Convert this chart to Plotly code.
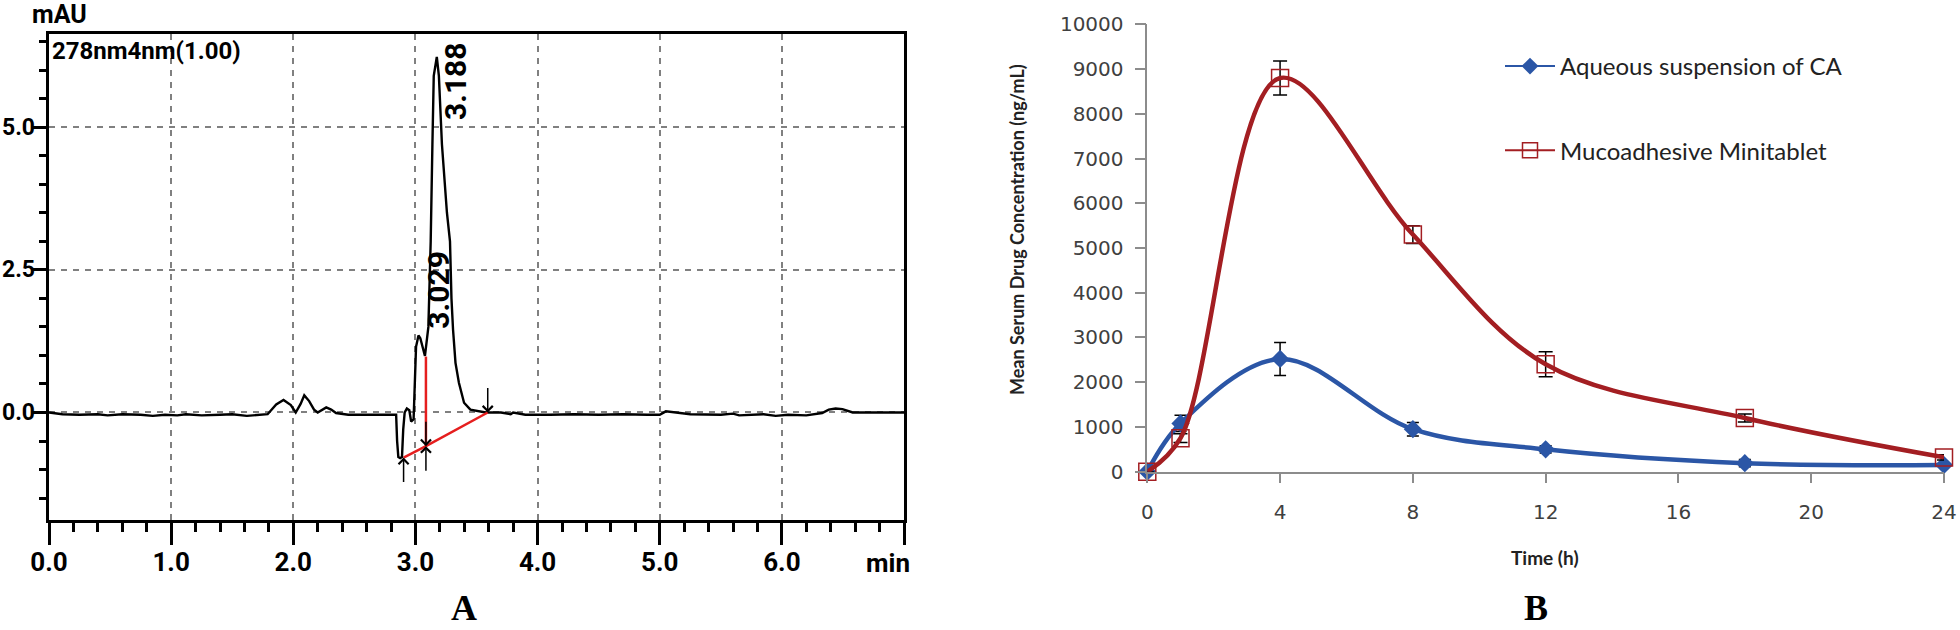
import plotly.graph_objects as go

# --- panel A: HPLC chromatogram (278 nm) ---
chrom_t = [0.00, 0.11, 0.25, 0.40, 0.48, 0.60, 0.75, 0.85, 0.95, 1.05, 1.12, 1.25, 1.40,
           1.50, 1.62, 1.72, 1.79, 1.86, 1.92, 1.98, 2.02, 2.06, 2.09, 2.13, 2.17, 2.20,
           2.24, 2.27, 2.31, 2.35, 2.45, 2.60, 2.75, 2.842, 2.850, 2.860, 2.875, 2.890,
           2.900, 2.912, 2.930, 2.950, 2.965, 2.985, 3.005, 3.025, 3.040, 3.078, 3.106,
           3.125, 3.139, 3.150, 3.175, 3.192, 3.217, 3.258, 3.283, 3.295, 3.308, 3.328,
           3.356, 3.398, 3.450, 3.575, 3.700, 3.780, 3.800, 3.900, 4.100, 4.300, 4.500,
           4.700, 4.900, 5.000, 5.050, 5.250, 5.500, 5.600, 5.650, 5.850, 5.950, 6.050,
           6.200, 6.330, 6.384, 6.440, 6.496, 6.580, 6.700, 6.850, 7.000]
chrom_mau = [0.00, -0.03, -0.04, -0.03, -0.05, -0.03, -0.04, -0.06, -0.04, -0.05, -0.03, -0.05, -0.04,
             -0.03, -0.06, -0.04, -0.03, 0.14, 0.22, 0.13, 0.00, 0.15, 0.30, 0.20, 0.05, 0.00,
             0.06, 0.09, 0.05, -0.01, -0.04, -0.04, -0.04, -0.04, -0.50, -0.78, -0.80, -0.78,
             -0.30, 0.00, 0.07, 0.04, -0.16, -0.12, 1.15, 1.35, 1.30, 0.99, 1.50,
             3.00, 4.70, 5.90, 6.23, 5.90, 4.70, 3.50, 3.00, 2.00, 1.45, 0.87,
             0.52, 0.17, 0.05, 0.00, 0.00, -0.03, 0.00, -0.04, -0.04, -0.03, -0.04,
             -0.03, -0.04, -0.04, 0.02, -0.03, -0.04, -0.02, -0.05, -0.03, -0.06, -0.04,
             -0.05, -0.01, 0.05, 0.07, 0.06, 0.00, 0.00, 0.00, 0.00]

# integration events: start, drop line, end
event_t = [2.903, 3.086, 3.592]
event_mau = [-0.79, -0.59, 0.00]
drop_top = 0.98
peak_labels = ["3.029", "3.188"]
peak_label_t = [3.192, 3.333]
peak_label_mau = [2.15, 5.81]

a_xticks = [0, 1, 2, 3, 4, 5, 6, 7]
a_xtext = ["0.0", "1.0", "2.0", "3.0", "4.0", "5.0", "6.0", ""]
a_yticks = [0.0, 2.5, 5.0]

# --- panel B: serum concentration profiles ---
time_h = [0, 1, 4, 8, 12, 18, 24]
aq_mean = [0, 1080, 2520, 950, 500, 190, 150]
aq_sd = [0, 180, 370, 150, 80, 80, 40]
mm_mean = [0, 750, 8800, 5300, 2400, 1200, 320]
mm_sd = [0, 100, 380, 200, 280, 90, 60]

blue = "#2B56A6"
red = "#A31E22"
font_a = "Roboto, Liberation Sans, sans-serif"
font_b = "DejaVu Sans, Verdana, sans-serif"

fig = go.Figure()

fig.add_trace(go.Scatter(x=chrom_t, y=chrom_mau, mode="lines", line=dict(color="black", width=2.4),
                         xaxis="x", yaxis="y", showlegend=False, hoverinfo="skip"))
fig.add_trace(go.Scatter(x=event_t, y=event_mau, mode="lines", line=dict(color="#E51E1E", width=2.5),
                         xaxis="x", yaxis="y", showlegend=False, hoverinfo="skip"))
fig.add_trace(go.Scatter(x=[event_t[1], event_t[1]], y=[event_mau[1], drop_top], mode="lines",
                         line=dict(color="#E51E1E", width=2.5),
                         xaxis="x", yaxis="y", showlegend=False, hoverinfo="skip"))

fig.add_trace(go.Scatter(x=time_h, y=aq_mean, mode="lines+markers", name="Aqueous suspension of CA",
                         line=dict(color=blue, width=4.5, shape="spline"),
                         marker=dict(symbol="diamond", size=14, color=blue),
                         error_y=dict(type="data", array=aq_sd, color="black", thickness=1.5, width=6),
                         xaxis="x2", yaxis="y2", showlegend=False, cliponaxis=False))
fig.add_trace(go.Scatter(x=time_h, y=mm_mean, mode="lines+markers", name="Mucoadhesive Minitablet",
                         line=dict(color=red, width=4.5, shape="spline"),
                         marker=dict(symbol="square-open", size=17, color=red, line=dict(width=1.5)),
                         error_y=dict(type="data", array=mm_sd, color="black", thickness=1.5, width=7),
                         xaxis="x2", yaxis="y2", showlegend=False, cliponaxis=False))

# legend entries with thin lines like the original
fig.add_trace(go.Scatter(x=[None], y=[None], mode="lines+markers", name="Aqueous suspension of CA",
                         line=dict(color=blue, width=2), marker=dict(symbol="diamond", size=13, color=blue),
                         xaxis="x2", yaxis="y2", legendgroup="a"))
fig.add_trace(go.Scatter(x=[None], y=[None], mode="lines+markers", name="Mucoadhesive Minitablet",
                         line=dict(color=red, width=2),
                         marker=dict(symbol="square-open", size=15, color=red, line=dict(width=1.5)),
                         xaxis="x2", yaxis="y2", legendgroup="b"))

annotations = []
# integration arrows
for t, v, dirs in zip(event_t, event_mau, [[26], [-26, 26], [-26]]):
    for ay in dirs:
        annotations.append(dict(x=t, y=v, xref="x", yref="y", ax=0, ay=ay, text="", showarrow=True,
                                arrowhead=4, arrowsize=1.3, arrowwidth=1.5, arrowcolor="black"))
for lab, t, v in zip(peak_labels, peak_label_t, peak_label_mau):
    annotations.append(dict(x=t, y=v, xref="x", yref="y", text=lab, textangle=-90,
                            showarrow=False, font=dict(family=font_a, size=30, color="black", weight="bold")))
# y tick labels of panel A, flush with the left edge as in the original
for v in a_yticks:
    annotations.append(dict(x=0, y=v, xref="paper", yref="y", text="%.1f" % v, showarrow=False,
                            xanchor="left", yanchor="middle",
                            font=dict(family=font_a, size=23, color="black", weight="bold")))


def px_note(x, y, text, font, **kw):
    d = dict(x=x / 1960, y=1 - y / 630, xref="paper", yref="paper", text=text, showarrow=False,
             xanchor="center", yanchor="middle", font=font)
    d.update(kw)
    return d


annotations += [
    px_note(59, 14, "mAU", dict(family=font_a, size=25, color="black", weight="bold")),
    px_note(50, 51, "278nm4nm(1.00)", dict(family=font_a, size=24, color="black", weight="bold"),
            xanchor="left"),
    px_note(888, 563, "min", dict(family=font_a, size=26, color="black", weight="bold")),
    px_note(464, 608, "<b>A</b>", dict(family="Liberation Serif, Times New Roman, serif", size=36, color="black")),
    px_note(1536, 608, "<b>B</b>", dict(family="Liberation Serif, Times New Roman, serif", size=36, color="black")),
    px_note(1017, 229, "<b>Mean Serum Drug Concentration (ng/mL)</b>",
            dict(family="Lato, sans-serif", size=18, color="#222222"), textangle=-90),
    px_note(1545, 557, "<b>Time (h)</b>", dict(family="Lato, sans-serif", size=19, color="#222222")),
]

tickfont_a = dict(family=font_a, size=26, color="black", weight="bold")

fig.update_layout(
    width=1960, height=630, autosize=False,
    margin=dict(l=0, r=0, t=0, b=0),
    paper_bgcolor="white", plot_bgcolor="white",
    xaxis=dict(domain=[49 / 1960, 904 / 1960], range=[0, 7], anchor="y", automargin=False,
               tickmode="array", tickvals=a_xticks, ticktext=a_xtext,
               ticks="outside", ticklen=22, tickwidth=2.5, tickcolor="black", ticklabelstandoff=-5,
               minor=dict(dtick=0.2, tick0=0, ticks="outside", ticklen=9, tickwidth=2.5,
                          tickcolor="black", showgrid=False),
               showgrid=True, gridcolor="#808080", griddash="6px,6px", gridwidth=1.5,
               showline=True, mirror=True, linecolor="black", linewidth=2.5, zeroline=False,
               tickfont=tickfont_a),
    yaxis=dict(domain=[1 - 520 / 630, 1 - 34 / 630], range=[-1.884, 6.632], anchor="x", automargin=False,
               tickmode="linear", tick0=0, dtick=2.5, showticklabels=False,
               ticks="outside", ticklen=14, tickwidth=2.5, tickcolor="black",
               minor=dict(dtick=0.5, tick0=0, ticks="outside", ticklen=7, tickwidth=2.5,
                          tickcolor="black", showgrid=False),
               showgrid=True, gridcolor="#808080", griddash="6px,6px", gridwidth=1.5,
               showline=True, mirror=True, linecolor="black", linewidth=2.5, zeroline=False),
    xaxis2=dict(domain=[1147.3 / 1960, 1944 / 1960], range=[0, 24], anchor="y2", automargin=False,
                tickmode="linear", tick0=0, dtick=4, ticks="outside", ticklen=10, tickwidth=1.5,
                tickcolor="#8c8c8c", showline=True, linecolor="#8c8c8c", linewidth=1.5,
                showgrid=False, zeroline=False, ticklabelstandoff=12,
                tickfont=dict(family=font_b, size=20, color="#404040")),
    yaxis2=dict(domain=[1 - 471.7 / 630, 1 - 24.3 / 630], range=[0, 10000], anchor="x2", automargin=False,
                tickmode="linear", tick0=0, dtick=1000, tickformat="d",
                ticks="outside", ticklen=11, tickwidth=1.5,
                tickcolor="#8c8c8c", showline=True, linecolor="#8c8c8c", linewidth=1.5,
                showgrid=False, zeroline=False, ticklabelstandoff=7,
                tickfont=dict(family=font_b, size=20, color="#404040")),
    legend=dict(x=1500 / 1960, y=1 - 44 / 630, xanchor="left", yanchor="top",
                font=dict(family="Lato, sans-serif", size=24, color="#222222"),
                tracegroupgap=50, itemwidth=50, bgcolor="rgba(0,0,0,0)"),
    annotations=annotations,
)

# drop the browser's default 8px body margin so the figure sits at the page origin
fig.write_html("out.html", config={"displayModeBar": False},
               post_script="document.body.style.margin='0';")
